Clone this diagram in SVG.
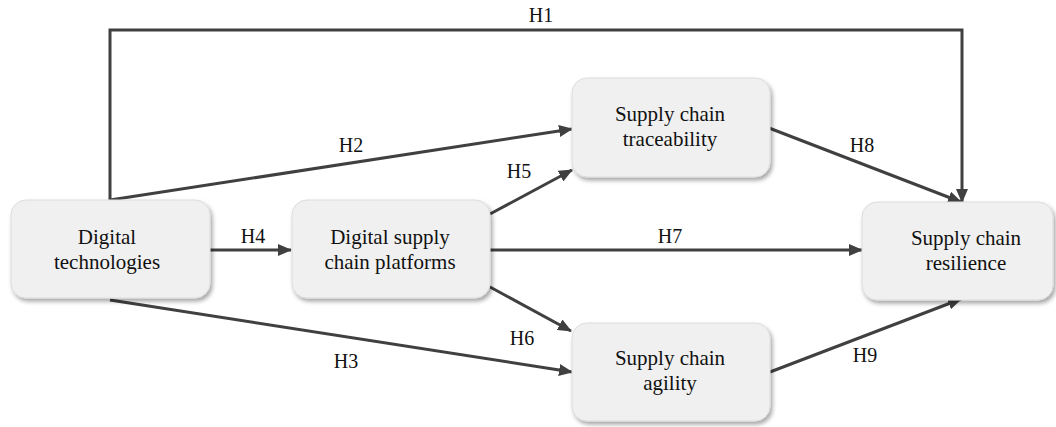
<svg xmlns="http://www.w3.org/2000/svg" width="1056" height="427" viewBox="0 0 1056 427">
  <style>
    .box { fill: #f0f0f0; stroke: #dcdcdc; stroke-width: 1; filter: url(#shadow); }
    .txt { font-family: "Liberation Serif", "Times New Roman", serif; font-size: 21px; fill: #111; text-anchor: middle; }
    .lbl { font-family: "Liberation Serif", "Times New Roman", serif; font-size: 20px; fill: #111; text-anchor: middle; }
    .edge { fill: none; stroke: #404040; stroke-width: 3; marker-end: url(#arrow); }
  </style>
  <defs>
    <filter id="shadow" x="-10%" y="-10%" width="125%" height="130%">
      <feDropShadow dx="2" dy="3" stdDeviation="2" flood-color="#000" flood-opacity="0.35"/>
    </filter>
    <marker id="arrow" markerUnits="userSpaceOnUse" markerWidth="14" markerHeight="12" refX="13" refY="6" orient="auto">
      <path d="M0,0 L14,6 L0,12 z" fill="#404040"/>
    </marker>
  </defs>

  <!-- connectors -->
  <g id="connectors">
    <path class="edge" d="M110,200 V30 H962 V202"/>
    <path class="edge" d="M110,200 L572,129"/>
    <path class="edge" d="M110,300 L572,372"/>
    <path class="edge" d="M210,250 L291,250"/>
    <path class="edge" d="M490,214 L572,170"/>
    <path class="edge" d="M490,287 L571,331"/>
    <path class="edge" d="M490,250 L862,250"/>
    <path class="edge" d="M769,128 L961,202"/>
    <path class="edge" d="M770,372 L961,299"/>
    <text class="lbl" x="541" y="22">H1</text>
    <text class="lbl" x="351" y="152">H2</text>
    <text class="lbl" x="346" y="368">H3</text>
    <text class="lbl" x="253" y="243">H4</text>
    <text class="lbl" x="519" y="178">H5</text>
    <text class="lbl" x="522" y="345">H6</text>
    <text class="lbl" x="670" y="243">H7</text>
    <text class="lbl" x="862" y="152">H8</text>
    <text class="lbl" x="865" y="362">H9</text>
  </g>

  <g id="digital-technologies">
    <rect class="box" x="11" y="200" width="199" height="98" rx="15"/>
    <text class="txt" x="107" y="244">Digital</text>
    <text class="txt" x="107" y="269">technologies</text>
  </g>

  <g id="digital-supply-chain-platforms">
    <rect class="box" x="292" y="200" width="198" height="98" rx="15"/>
    <text class="txt" x="390" y="244">Digital supply</text>
    <text class="txt" x="390" y="269">chain platforms</text>
  </g>

  <g id="supply-chain-traceability">
    <rect class="box" x="572" y="78" width="198" height="99" rx="15"/>
    <text class="txt" x="670" y="121">Supply chain</text>
    <text class="txt" x="670" y="146">traceability</text>
  </g>

  <g id="supply-chain-agility">
    <rect class="box" x="572" y="323" width="198" height="98" rx="15"/>
    <text class="txt" x="670" y="365">Supply chain</text>
    <text class="txt" x="670" y="390">agility</text>
  </g>

  <g id="supply-chain-resilience">
    <rect class="box" x="862" y="202" width="191" height="98" rx="15"/>
    <text class="txt" x="966" y="245">Supply chain</text>
    <text class="txt" x="966" y="270">resilience</text>
  </g>
</svg>
